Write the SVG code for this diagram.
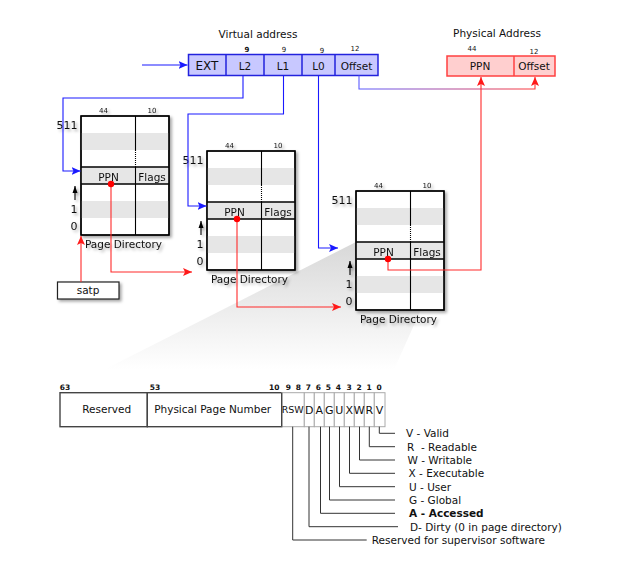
<svg xmlns="http://www.w3.org/2000/svg" width="618" height="568" viewBox="0 0 618 568">
<style>
text{font-family:"DejaVu Sans","Liberation Sans",sans-serif;fill:#111;font-size:10.5px}
.c{text-anchor:middle}
.sm{font-size:7px;text-anchor:middle}
.bn{font-size:7.5px;font-weight:bold;text-anchor:middle}
.bl{font-size:11px;text-anchor:middle}
.tbl{fill:#fff;stroke:#000;stroke-width:1.3}
.stripe{fill:#e6e6e6}
.thick{stroke:#000;stroke-width:1.5;fill:none}
.div{stroke:#000;stroke-width:1.1}
.dot{stroke:#000;stroke-width:1.1;stroke-dasharray:1 1}
.blue{fill:none;stroke:#1a1aff;stroke-width:1.1}
.red{fill:none;stroke:#ff2a2a;stroke-width:1.1}
.leg{fill:none;stroke:#333;stroke-width:1}
.bit{fill:#fff;stroke:#aaa;stroke-width:1}
</style>
<defs>
<marker id="ab" markerUnits="userSpaceOnUse" markerWidth="10" markerHeight="10" refX="9" refY="5" orient="auto"><path d="M0,1 L9,5 L0,9 L2,5 Z" fill="#1a1aff"/></marker>
<marker id="ar" markerUnits="userSpaceOnUse" markerWidth="10" markerHeight="10" refX="9" refY="5" orient="auto"><path d="M0,1 L9,5 L0,9 L2,5 Z" fill="#ff1a1a"/></marker>
<marker id="ak" markerUnits="userSpaceOnUse" markerWidth="8" markerHeight="8" refX="7" refY="4" orient="auto"><path d="M0,1.5 L7,4 L0,6.5 Z" fill="#000"/></marker>
<linearGradient id="gw" x1="0" y1="0" x2="0" y2="1"><stop offset="0" stop-color="#d8d8d8"/><stop offset="0.85" stop-color="#ffffff"/></linearGradient>
<linearGradient id="go" x1="0" y1="0" x2="1" y2="0"><stop offset="0" stop-color="#5a5aff"/><stop offset="1" stop-color="#ff3a3a"/></linearGradient>
<filter id="sh" x="-20%" y="-20%" width="150%" height="150%"><feDropShadow dx="2" dy="2" stdDeviation="1.8" flood-color="#000" flood-opacity="0.35"/></filter>
<g id="pdt">
<rect class="tbl" x="0" y="0" width="88" height="119"/>
<rect class="stripe" x="0.7" y="17" width="86.6" height="17"/>
<rect class="stripe" x="0.7" y="51" width="86.6" height="17"/>
<rect class="stripe" x="0.7" y="85" width="86.6" height="17"/>
<line class="div" x1="54.5" y1="0" x2="54.5" y2="34"/>
<line class="dot" x1="54.5" y1="34" x2="54.5" y2="51"/>
<line class="div" x1="54.5" y1="51" x2="54.5" y2="119"/>
<line class="thick" x1="0" y1="51" x2="88" y2="51"/>
<line class="thick" x1="0" y1="68" x2="88" y2="68"/>
<rect x="0" y="0" width="88" height="119" fill="none" stroke="#000" stroke-width="1.3"/>
<text class="sm" x="22.5" y="-3.5">44</text>
<text class="sm" x="71" y="-3.5">10</text>
<text class="bl" x="-14" y="13">511</text>
<text class="c" x="27.5" y="64.5">PPN</text>
<text class="c" x="71" y="64.5">Flags</text>
<line x1="-6" y1="84" x2="-6" y2="70" stroke="#000" stroke-width="1.1" marker-end="url(#ak)"/>
<text class="bl" x="-7" y="97">1</text>
<text class="bl" x="-7" y="114">0</text>
<text class="c" x="42.5" y="132">Page Directory</text>
</g>
</defs>
<rect width="618" height="568" fill="#fff"/>
<polygon points="356,242 444,258 384,392 60,392" fill="url(#gw)"/>
<g id="vaddr">
<text class="c" x="258" y="38">Virtual address</text>
<rect x="188.5" y="54.5" width="189.5" height="21" fill="#c8c8ff" stroke="#2222dd" stroke-width="1.5"/>
<line x1="226" y1="54.5" x2="226" y2="75.5" stroke="#2222dd" stroke-width="1.5"/>
<line x1="264" y1="54.5" x2="264" y2="75.5" stroke="#2222dd" stroke-width="1.5"/>
<line x1="302" y1="54.5" x2="302" y2="75.5" stroke="#2222dd" stroke-width="1.5"/>
<line x1="335" y1="54.5" x2="335" y2="75.5" stroke="#2222dd" stroke-width="1.5"/>
<text class="c" x="207" y="70" style="font-size:12px">EXT</text>
<text class="c" x="245" y="69.5">L2</text>
<text class="c" x="283" y="69.5">L1</text>
<text class="c" x="318.5" y="69.5">L0</text>
<text class="c" x="356.5" y="69.5">Offset</text>
<text class="sm" x="247" y="51.5" font-weight="bold">9</text>
<text class="sm" x="284" y="51.5">9</text>
<text class="sm" x="322" y="53">9</text>
<text class="sm" x="355" y="50.5">12</text>
</g>
<g id="paddr">
<text class="c" x="497" y="37">Physical Address</text>
<rect x="447" y="56" width="108" height="20" fill="#ffcfcf" stroke="#ff4040" stroke-width="1.5"/>
<line x1="514" y1="56" x2="514" y2="76" stroke="#ff4040" stroke-width="1.5"/>
<text class="c" x="480" y="70">PPN</text>
<text class="c" x="534" y="70">Offset</text>
<text class="sm" x="472" y="50.5">44</text>
<text class="sm" x="534" y="53.5">12</text>
</g>
<g id="pd1" transform="translate(81,116)" filter="url(#sh)"><use href="#pdt"/></g>
<g id="pd2" transform="translate(207,151)" filter="url(#sh)"><use href="#pdt"/></g>
<g id="pd3" transform="translate(356,191)" filter="url(#sh)"><use href="#pdt"/></g>
<g id="satp">
<rect x="57.5" y="282" width="61.5" height="17" fill="#fff" stroke="#222" stroke-width="1.2" filter="url(#sh)"/>
<text class="c" x="88" y="294">satp</text>
</g>
<g id="pte">
<rect x="60" y="392.7" width="87.3" height="34" fill="#fff" stroke="#444" stroke-width="1.4"/>
<rect x="147.3" y="392.7" width="134.4" height="34" fill="#fff" stroke="#444" stroke-width="1.4"/>
<rect class="bit" x="281.7" y="392.7" width="22.6" height="34"/>
<rect class="bit" x="304.3" y="392.7" width="10" height="34"/>
<rect class="bit" x="314.3" y="392.7" width="10" height="34"/>
<rect class="bit" x="324.3" y="392.7" width="10" height="34"/>
<rect class="bit" x="334.3" y="392.7" width="10" height="34"/>
<rect class="bit" x="344.3" y="392.7" width="10" height="34"/>
<rect class="bit" x="354.3" y="392.7" width="10" height="34"/>
<rect class="bit" x="364.3" y="392.7" width="10" height="34"/>
<rect class="bit" x="374.3" y="392.7" width="10.7" height="34"/>
<line x1="281.7" y1="392.7" x2="281.7" y2="426.7" stroke="#444" stroke-width="1.4"/>
<text class="c" x="106.7" y="413">Reserved</text>
<text class="c" x="212.7" y="413">Physical Page Number</text>
<text class="c" x="292.7" y="413" style="font-size:9.5px">RSW</text>
<text class="bl" x="309.3" y="413.5">D</text>
<text class="bl" x="319.3" y="413.5">A</text>
<text class="bl" x="329.3" y="413.5">G</text>
<text class="bl" x="339.3" y="413.5">U</text>
<text class="bl" x="349.3" y="413.5">X</text>
<text class="bl" x="359.3" y="413.5">W</text>
<text class="bl" x="369.3" y="413.5">R</text>
<text class="bl" x="379.6" y="413.5">V</text>
<text class="bn" x="65" y="390">63</text>
<text class="bn" x="155" y="390">53</text>
<text class="bn" x="274.3" y="390">10</text>
<text class="bn" x="288.3" y="390">9</text>
<text class="bn" x="298.3" y="390">8</text>
<text class="bn" x="308.3" y="390">7</text>
<text class="bn" x="318.3" y="390">6</text>
<text class="bn" x="328.3" y="390">5</text>
<text class="bn" x="338.3" y="390">4</text>
<text class="bn" x="349" y="390">3</text>
<text class="bn" x="359" y="390">2</text>
<text class="bn" x="369" y="390">1</text>
<text class="bn" x="379" y="390">0</text>
</g>
<g id="legend">
<path class="leg" d="M379.3,426.7 V433.3 H395"/>
<path class="leg" d="M369.3,426.7 V446.7 H395"/>
<path class="leg" d="M359.5,426.7 V460 H395"/>
<path class="leg" d="M349.5,426.7 V473.3 H395"/>
<path class="leg" d="M339.5,426.7 V486.7 H395"/>
<path class="leg" d="M329.5,426.7 V500 H395"/>
<path class="leg" d="M320.5,426.7 V513.3 H395"/>
<path class="leg" d="M309,426.7 V526.7 H398"/>
<path class="leg" d="M292.7,426.7 V540 H366.7"/>
<text x="406" y="437">V - Valid</text>
<text x="407" y="450.5" xml:space="preserve">R  - Readable</text>
<text x="407.5" y="463.8">W - Writable</text>
<text x="408.5" y="477">X - Executable</text>
<text x="409" y="490.5">U - User</text>
<text x="409" y="503.8">G - Global</text>
<text x="409" y="517" font-weight="bold">A - Accessed</text>
<text x="410" y="530.5">D- Dirty (0 in page directory)</text>
<text x="371.7" y="543.8">Reserved for supervisor software</text>
</g>
<g id="connectors">
<path class="blue" d="M142,65 H187.5" marker-end="url(#ab)"/>
<path class="blue" d="M243,75.5 V98 H63 V171 H80.5" marker-end="url(#ab)"/>
<path class="blue" d="M283.5,75.5 V114 H188 V206 H206.5" marker-end="url(#ab)"/>
<path class="blue" d="M318.5,75.5 V248 H338" marker-end="url(#ab)"/>
<path d="M359,75.5 V89 H535 V77" fill="none" stroke="url(#go)" stroke-width="1.1" marker-end="url(#ar)"/>
<path class="red" d="M81,282 V236" marker-end="url(#ar)"/>
<path class="red" d="M111,184 V272 H192" marker-end="url(#ar)"/>
<path class="red" d="M237,219 V307 H341" marker-end="url(#ar)"/>
<path class="red" d="M388,259 V270 H481 V77" marker-end="url(#ar)"/>
<circle cx="111" cy="184" r="3.2" fill="#f00"/>
<circle cx="237" cy="219" r="3.2" fill="#f00"/>
<circle cx="388" cy="259" r="3.2" fill="#f00"/>
</g>
</svg>
